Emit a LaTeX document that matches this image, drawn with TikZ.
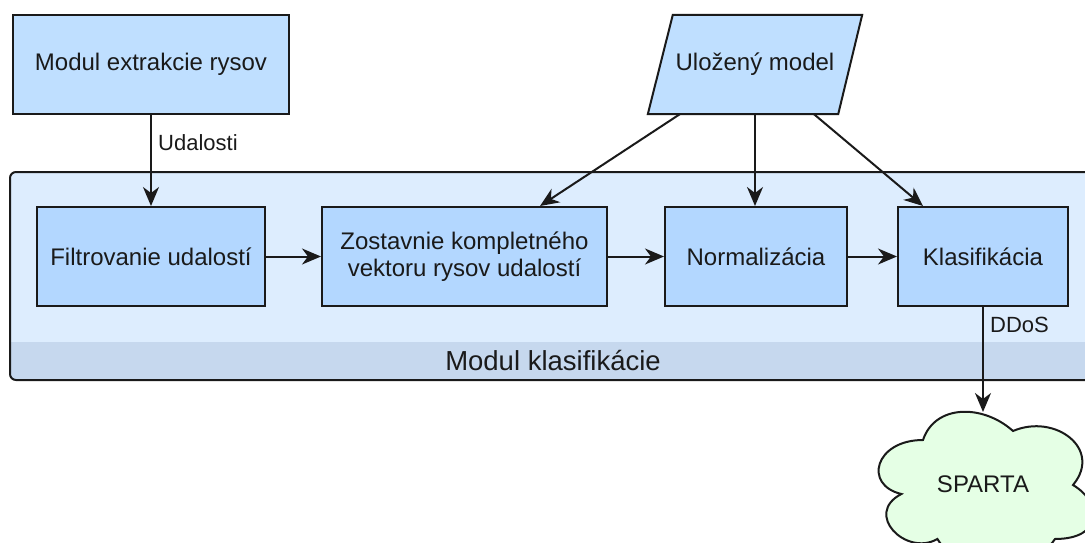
\documentclass[tikz,border=0pt]{standalone}
\usepackage{fontspec}
\setmainfont{Liberation Sans}
\usetikzlibrary{arrows.meta,calc,backgrounds}

\definecolor{boxfill}{HTML}{BFDFFF}
\definecolor{innerfill}{HTML}{B3D7FF}
\definecolor{contfill}{HTML}{DDEDFE}
\definecolor{footfill}{HTML}{C6D8EE}
\definecolor{cloudfill}{HTML}{E5FFE5}
\definecolor{ink}{HTML}{1A1A1A}

\tikzset{
  every node/.style={text=ink, font=\fontsize{24}{28}\selectfont},
  blockbox/.style={draw=ink, line width=2pt, rectangle, align=center, inner sep=0pt},
  flow/.style={draw=ink, line width=2pt, -{Stealth[length=19pt,width=16pt,inset=6pt]}},
  edgelabel/.style={font=\fontsize{22}{26}\selectfont, anchor=west, inner sep=0pt},
}

\begin{document}
\begin{tikzpicture}[x=1pt,y=-1pt]
\useasboundingbox (0,0) rectangle (1085,543);
\clip (0,0) rectangle (1085,543);

% module container with its footer band
\fill[contfill, rounded corners=6pt] (10,172) rectangle (1100,380);
\begin{scope}
  \clip[rounded corners=6pt] (10,172) rectangle (1100,380);
  \fill[footfill] (10,342) rectangle (1100,380);
\end{scope}
\draw[ink, line width=2pt, rounded corners=6pt] (10,172) rectangle (1100,380);
\node[font=\fontsize{27.5}{32}\selectfont] (klasmod) at (553,361) {Modul klasifikácie};

% source blocks
\node[blockbox, fill=boxfill, minimum width=276pt, minimum height=99pt] (extr) at (151,64.5) {Modul extrakcie rysov};
\node[inner sep=0pt, minimum width=214pt, minimum height=99pt] (model) at (755,64.5) {Uložený model};
\begin{scope}[on background layer]
  \draw[ink, line width=2pt, fill=boxfill, line join=miter]
    ($(model.north west)+(25,0)$) -- (model.north east)
    -- ($(model.south east)+(-24,0)$) -- (model.south west) -- cycle;
\end{scope}

% processing chain
\node[blockbox, fill=innerfill, minimum width=228pt, minimum height=99pt] (filt) at (151,256.5) {Filtrovanie udalostí};
\node[blockbox, fill=innerfill, minimum width=285pt, minimum height=99pt, font=\fontsize{24}{27}\selectfont] (zost) at (464.5,256.5) {Zostavnie kompletného\\vektoru rysov udalostí};
\node[blockbox, fill=innerfill, minimum width=182pt, minimum height=99pt] (norm) at (756,256.5) {Normalizácia};
\node[blockbox, fill=innerfill, minimum width=170pt, minimum height=99pt] (klas) at (983,256.5) {Klasifikácia};

% external system
\node (sparta) at (983,484) {SPARTA};
\coordinate (spartatop) at (983,412);
\begin{scope}[on background layer, shift={(863,395)}, x=240pt, y=-180pt]
  \draw[ink, line width=2pt, fill=cloudfill]
    (0.25,0.25) .. controls (0.05,0.25) and (0,0.5) .. (0.16,0.55)
    .. controls (0,0.66) and (0.18,0.9) .. (0.31,0.8)
    .. controls (0.4,1) and (0.7,1) .. (0.8,0.8)
    .. controls (1,0.8) and (1,0.6) .. (0.875,0.5)
    .. controls (1,0.3) and (0.8,0.1) .. (0.625,0.2)
    .. controls (0.5,0.05) and (0.3,0.05) .. (0.25,0.25) -- cycle;
\end{scope}

% connectors
\draw[flow] (extr.south) -- (filt.north);
\node[edgelabel] (lblud) at (158,143) {Udalosti};
\draw[flow] (filt.east) -- (zost.west);
\draw[flow] (zost.east) -- (norm.west);
\draw[flow] (norm.east) -- (klas.west);
\draw[flow] ($(model.south west)+(32,0)$) -- ($(zost.north)+(75.5,0)$);
\draw[flow] (model.south) -- (model.south |- norm.north);
\draw[flow] ($(model.south)+(59,0)$) -- ($(klas.north)+(-60,0)$);
\draw[flow] (klas.south) -- (spartatop);
\node[edgelabel] (lblddos) at (990,325) {DDoS};
\end{tikzpicture}
\end{document}
